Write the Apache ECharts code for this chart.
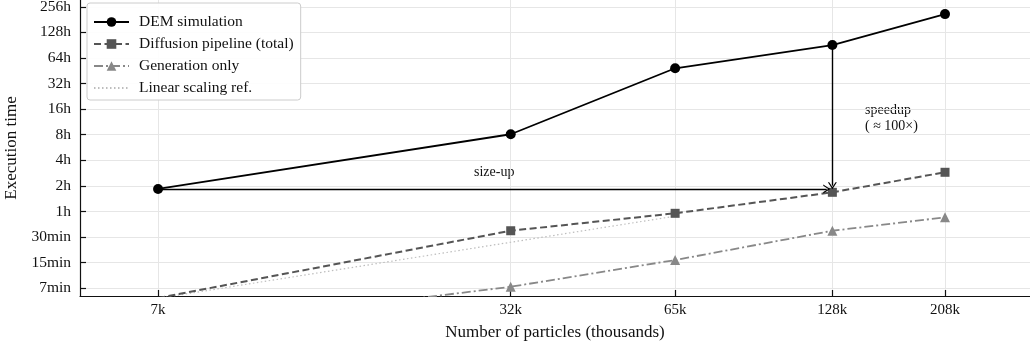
<!DOCTYPE html>
<html>
<head>
<meta charset="utf-8">
<script src="https://cdn.jsdelivr.net/npm/echarts@6/dist/echarts.min.js"></script>
<style>
  html, body { margin: 0; padding: 0; background: #fff; }
  #chart { width: 1030px; height: 348px; }
</style>
</head>
<body>
<div id="chart"></div>
<script>
// particles in thousands, times in hours
const particles = [7, 32, 65, 128, 208];
const xTickLabels = ['7k', '32k', '65k', '128k', '208k'];
const yTickHours = [0.125, 0.25, 0.5, 1, 2, 4, 8, 16, 32, 64, 128, 256];
const yTickLabels = ['7min', '15min', '30min', '1h', '2h', '4h', '8h', '16h', '32h', '64h', '128h', '256h'];

const demHours = [1.84, 8.1, 48.4, 90.9, 210];
const diffusionHours = [0.096, 0.593, 0.951, 1.68, 2.89];
const generationHours = [0.040, 0.130, 0.268, 0.593, 0.853];
const refParticles = [7, 32, 65];
const refHours = [0.095, 0.434, 0.88];

const lx = (v) => Math.log10(v);
const ly = (v) => Math.log2(v);
const toPoints = (xs, ys) => xs.map((x, i) => [lx(x), ly(ys[i])]);

const font = 'Liberation Serif';
const xTicks = particles.map(lx);
const yTicks = yTickHours.map(ly);

function nearestLabel(v, ticks, labels) {
  let best = 0;
  ticks.forEach((t, i) => {
    if (Math.abs(t - v) < Math.abs(ticks[best] - v)) best = i;
  });
  return labels[best];
}

// open arrow head
const chevron = 'path://M0,10 L5,0 L10,10 L8.5,10 L5,3 L1.5,10 Z';

const chart = echarts.init(document.getElementById('chart'));
const options = {
  animation: false,
  textStyle: { fontFamily: font },
  grid: { left: 80, right: 0, top: 0, bottom: 52, outerBoundsMode: 'none', containLabel: false },
  legend: {
    orient: 'vertical',
    left: 87,
    top: 3,
    padding: [11, 7, 4, 6],
    itemWidth: 35,
    itemHeight: 12,
    itemGap: 6,
    backgroundColor: 'rgba(255,255,255,0.9)',
    borderColor: '#cccccc',
    borderWidth: 1,
    borderRadius: 3,
    textStyle: { fontFamily: font, fontSize: 15.5, color: '#111', padding: [0, 0, 0, 5] },
    data: ['DEM simulation', 'Diffusion pipeline (total)', 'Generation only', 'Linear scaling ref.'],
  },
  xAxis: {
    type: 'value',
    min: lx(5),
    max: lx(300),
    name: 'Number of particles (thousands)',
    nameLocation: 'middle',
    nameGap: 28,
    nameTextStyle: { fontFamily: font, fontSize: 17, color: '#111' },
    axisLine: { onZero: false, lineStyle: { color: '#111', width: 1.2 } },
    axisTick: { show: true, inside: true, length: 6, customValues: xTicks, lineStyle: { color: '#111', width: 1.2 } },
    axisLabel: {
      customValues: xTicks,
      margin: 7,
      fontFamily: font,
      fontSize: 15,
      color: '#111',
      formatter: (v) => nearestLabel(v, xTicks, xTickLabels),
    },
    splitLine: { show: true, lineStyle: { color: '#e6e6e6', width: 1 } },
  },
  yAxis: {
    type: 'value',
    min: -3.305,
    max: 8.266,
    name: 'Execution time',
    nameLocation: 'middle',
    nameGap: 49,
    nameTextStyle: { fontFamily: font, fontSize: 17, color: '#111' },
    axisLine: { show: true, onZero: false, lineStyle: { color: '#111', width: 1.2 } },
    axisTick: { show: true, inside: true, length: 6, customValues: yTicks, lineStyle: { color: '#111', width: 1.2 } },
    axisLabel: {
      customValues: yTicks,
      margin: 9,
      fontFamily: font,
      fontSize: 15.5,
      color: '#111',
      formatter: (v) => nearestLabel(v, yTicks, yTickLabels),
    },
    splitLine: { show: true, lineStyle: { color: '#e6e6e6', width: 1 } },
  },
  series: [
    {
      name: 'DEM simulation',
      type: 'line',
      data: toPoints(particles, demHours),
      symbol: 'circle',
      symbolSize: 10,
      lineStyle: { color: '#000', width: 1.8 },
      itemStyle: { color: '#000' },
      z: 5,
      markLine: {
        silent: true,
        symbol: ['none', chevron],
        symbolSize: [9, 7],
        label: { show: false },
        lineStyle: { color: '#000', width: 1.4, type: 'solid' },
        data: [
          [
            { coord: [lx(particles[0]), ly(demHours[0])] },
            { coord: [lx(particles[3]) - 0.0105, ly(demHours[0])] },
          ],
          [
            { coord: [lx(particles[3]), ly(demHours[3])] },
            { coord: [lx(particles[3]), ly(diffusionHours[3]) + 0.26] },
          ],
        ],
      },
    },
    {
      name: 'Diffusion pipeline (total)',
      type: 'line',
      data: toPoints(particles, diffusionHours),
      symbol: 'rect',
      symbolSize: 9,
      lineStyle: { color: '#555', width: 2, type: [7, 3.5] },
      itemStyle: { color: '#555' },
      z: 4,
    },
    {
      name: 'Generation only',
      type: 'line',
      data: toPoints(particles, generationHours),
      symbol: 'triangle',
      symbolSize: 10,
      lineStyle: { color: '#888', width: 1.8, type: [9, 3, 2, 3] },
      itemStyle: { color: '#888' },
      z: 3,
    },
    {
      name: 'Linear scaling ref.',
      type: 'line',
      data: toPoints(refParticles, refHours),
      symbol: 'none',
      lineStyle: { color: '#bdbdbd', width: 1.2, type: [1.5, 2.5] },
      itemStyle: { color: '#bdbdbd', opacity: 0 },
      z: 2,
    },
  ],
  graphic: [
    { type: 'text', x: 474, y: 172, style: { text: 'size-up', font: '14px "Liberation Serif"', fill: '#111', verticalAlign: 'middle' } },
    { type: 'text', x: 865, y: 110, style: { text: 'speedup', font: '14px "Liberation Serif"', fill: '#111', verticalAlign: 'middle' } },
    { type: 'text', x: 865, y: 126, style: { text: '( \u2248 100\u00d7)', font: '14px "Liberation Serif"', fill: '#111', verticalAlign: 'middle' } },
  ],
};

chart.setOption(options);
</script>
</body>
</html>
